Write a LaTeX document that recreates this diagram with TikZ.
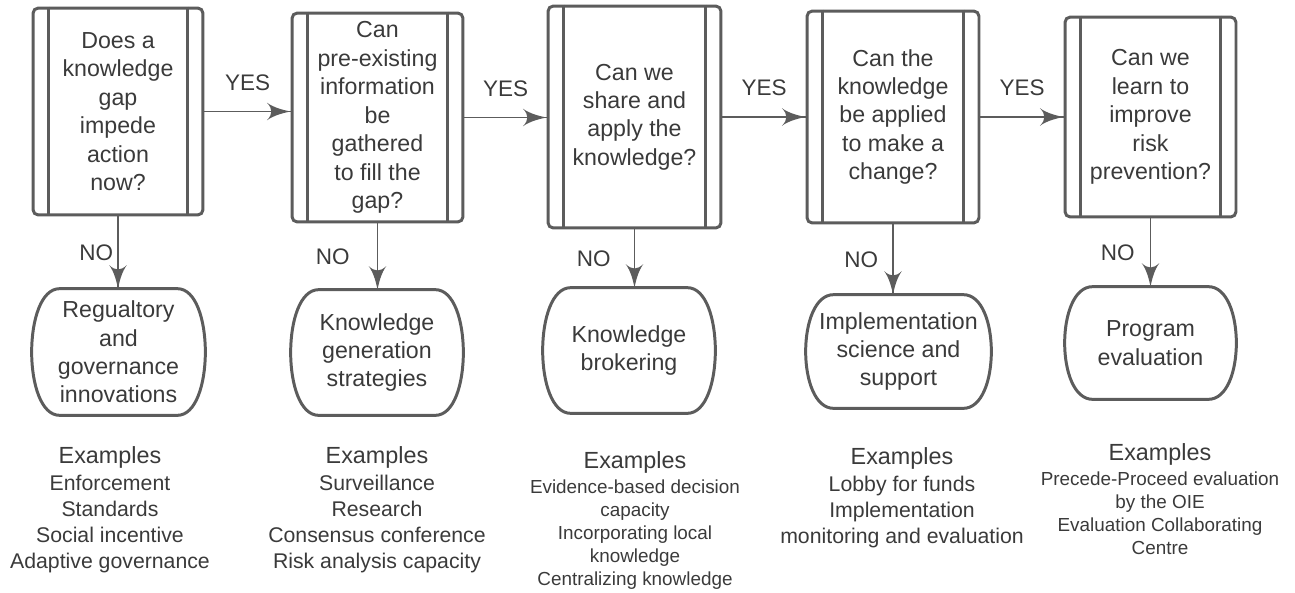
\documentclass[tikz,border=0pt]{standalone}
\usepackage{fontspec}
\setmainfont{Liberation Sans}
\usetikzlibrary{arrows}
\usetikzlibrary{decorations.markings}
\usetikzlibrary{positioning}
\definecolor{linegray}{HTML}{5C5C5C}
\definecolor{textgray}{HTML}{3A3A3A}
\tikzset{->/.style = {decoration={markings,
                                  mark=at position 1 with {\arrow[scale=2.2]{latex'}}},
                      postaction={decorate}}}
\tikzset{qbox/.style = {draw=linegray, line width=1.7pt, rounded corners=3pt, inner sep=0,
                        align=center, text=textgray, font=\fontsize{13.2}{16.2}\selectfont}}
\tikzset{term/.style = {inner sep=0, align=center, text=textgray, font=\fontsize{13.2}{16.2}\selectfont}}
\tikzset{outline/.style = {draw=linegray, line width=1.7pt}}
\tikzset{arrowline/.style = {draw=linegray, line width=1.1pt}}
\tikzset{lbl/.style = {inner sep=0, text=textgray, font=\fontsize{12.8}{15}\selectfont}}
\tikzset{hd/.style = {anchor=base, inner sep=0, text=textgray, font=\fontsize{13.3}{16}\selectfont}}
\tikzset{itm/.style = {inner sep=0, align=center, text=textgray, font=\fontsize{12.1}{14.8}\selectfont}}
\tikzset{itmsmall/.style = {itm, font=\fontsize{10.75}{13.1}\selectfont}}

\begin{document}
\begin{tikzpicture}[x=0.02cm, y=-0.02cm]
    \useasboundingbox (0,0) rectangle (1295,592);

    % questions
    \node [qbox, minimum width=3.4cm, minimum height=4.14cm] (q1) at (118,111.5)
      {Does a\\knowledge\\gap\\impede\\action\\now?};
    \node [qbox, minimum width=3.42cm, minimum height=4.18cm] (q2) at (377.5,117.5)
      {Can\\pre-existing\\information\\be\\gathered\\to fill the\\gap?};
    \node [qbox, minimum width=3.46cm, minimum height=4.44cm] (q3) at (634.5,117)
      {Can we\\share and\\apply the\\knowledge?};
    \node [qbox, minimum width=3.44cm, minimum height=4.24cm] (q4) at (893,117)
      {Can the\\knowledge\\be applied\\to make a\\change?};
    \node [qbox, minimum width=3.42cm, minimum height=4cm] (q5) at (1150.5,117)
      {Can we\\learn to\\improve\\risk\\prevention?};
    \foreach \i in {1,...,5} {
      \draw [outline] ([xshift=0.34cm]q\i.north west) -- ([xshift=0.34cm]q\i.south west);
      \draw [outline] ([xshift=-0.34cm]q\i.north east) -- ([xshift=-0.34cm]q\i.south east);
    }

    % terminals
    \node [term, minimum width=3.46cm, minimum height=2.52cm] (t1) at (118.5,352)
      {Regualtory\\and\\governance\\innovations};
    \node [term, minimum width=3.44cm, minimum height=2.5cm] (t2) at (377,352.5)
      {Knowledge\\generation\\strategies};
    \node [term, minimum width=3.44cm, minimum height=2.5cm] (t3) at (629,350.5)
      {Knowledge\\brokering};
    \node [term, minimum width=3.7cm, minimum height=2.26cm] (t4) at (898.5,351.5)
      {Implementation\\science and\\support};
    \node [term, minimum width=3.42cm, minimum height=2.24cm] (t5) at (1150.5,343)
      {Program\\evaluation};
    \foreach \i in {1,...,5} {
      \draw [outline] ([xshift=-0.56cm]t\i.north east)
        .. controls ([xshift=0.187cm]t\i.north east) and ([xshift=0.187cm]t\i.south east)
        .. ([xshift=-0.56cm]t\i.south east) -- ([xshift=0.56cm]t\i.south west)
        .. controls ([xshift=-0.187cm]t\i.south west) and ([xshift=-0.187cm]t\i.north west)
        .. ([xshift=0.56cm]t\i.north west) -- cycle;
    }

    % yes / no
    \foreach \i/\j in {1/2, 2/3, 3/4, 4/5}
      \draw [arrowline, ->] (q\i.east) -- (q\i.east -| q\j.west)
        node [lbl, midway, above=0.4cm] {YES};
    \foreach \i/\d in {1/0.08cm, 2/0.54cm, 3/0.46cm, 4/0.28cm, 5/0.3cm}
      \draw [arrowline, ->] (q\i.south) -- (q\i.south |- t\i.north)
        node [lbl, midway, left=\d] {NO};

    % examples
    \node [hd] (hd1) at (110,463) {Examples};
    \node [itm, below=3.5pt of hd1] (it1)
      {Enforcement\\Standards\\Social incentive\\Adaptive governance};
    \node [hd] (hd2) at (377,463) {Examples};
    \node [itm, below=3.5pt of hd2] (it2)
      {Surveillance\\Research\\Consensus conference\\Risk analysis capacity};
    \node [hd] (hd3) at (635,468) {Examples};
    \node [itmsmall, below=3.5pt of hd3] (it3)
      {Evidence-based decision\\capacity\\Incorporating local\\knowledge\\Centralizing knowledge};
    \node [hd] (hd4) at (902,464) {Examples};
    \node [itm, below=3.5pt of hd4] (it4)
      {Lobby for funds\\Implementation\\monitoring and evaluation};
    \node [hd] (hd5) at (1160,460) {Examples};
    \node [itmsmall, below=3.5pt of hd5] (it5)
      {Precede-Proceed evaluation\\by the OIE\\Evaluation Collaborating\\Centre};
  \end{tikzpicture}
\end{document}
